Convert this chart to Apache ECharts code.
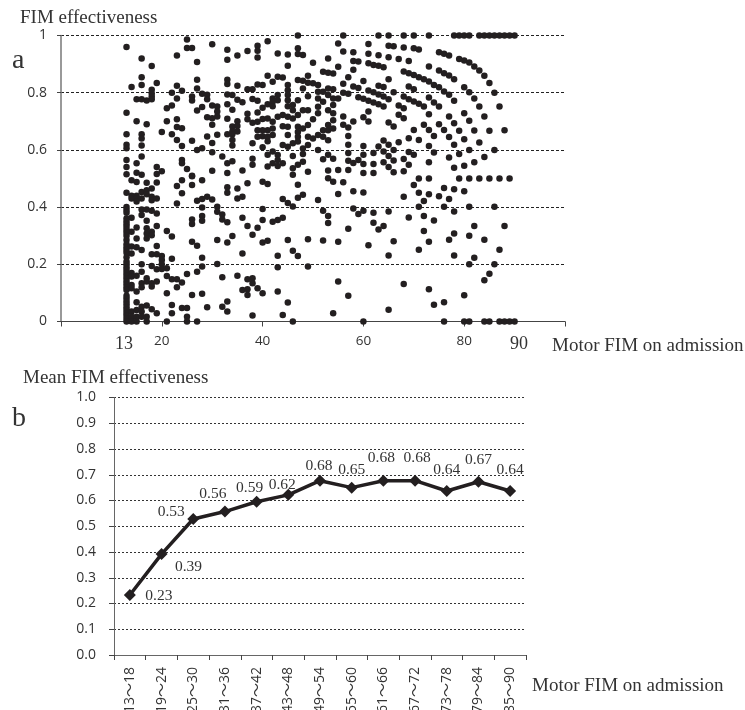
<!DOCTYPE html>
<html>
<head>
<meta charset="utf-8">
<title>FIM effectiveness</title>
<script src="https://cdn.jsdelivr.net/npm/echarts@6/dist/echarts.min.js"></script>
<style>
html, body { margin: 0; padding: 0; background: #fff; overflow: hidden; }
#chart { width: 745px; height: 710px; }
</style>
</head>
<body>
<div id="chart"></div>
<script>
// panel a: motor FIM on admission, one list of effectiveness values per score
const motorScores = [13,14,15,16,17,18,19,20,21,22,23,24,25,26,27,28,29,30,31,32,33,34,35,36,37,38,39,40,41,42,43,44,45,46,47,48,49,50,51,52,53,54,55,56,57,58,59,60,61,62,63,64,65,66,67,68,69,70,71,72,73,74,75,76,77,78,79,80,81,82,83,84,85,86,87,88,89,90];
const effectivenessByScore = [
  [0.96,0.73,0.655,0.618,0.606,0.565,0.54,0.515,0.45,0.4,0.39,0.38,0.36,0.35,0.34,0.33,0.32,0.31,0.3,0.285,0.27,0.26,0.25,0.24,0.225,0.21,0.2,0.19,0.18,0.17,0.16,0.15,0.14,0.13,0.12,0.11,0.09,0.08,0.07,0.06,0.05,0.04,0.03,0.02,0.01,0],
  [0.82,0.494,0.44,0.43,0.363,0.314,0.262,0.238,0.17,0.157,0.128,0.116,0.035,0.017,0],
  [0.777,0.7,0.553,0.52,0.488,0.44,0.43,0.42,0.329,0.29,0.26,0.16,0.105,0.067,0.04,0.017,0],
  [0.92,0.854,0.827,0.777,0.655,0.64,0.615,0.577,0.513,0.453,0.43,0.392,0.372,0.25,0.2,0.174,0.134,0.12,0.052,0.035,0.017],
  [0.773,0.69,0.485,0.459,0.445,0.392,0.352,0.326,0.308,0.29,0.151,0.14,0.056,0.017,0],
  [0.893,0.81,0.797,0.787,0.777,0.465,0.436,0.424,0.387,0.314,0.302,0.235,0.194,0.134,0.122,0.043],
  [0.834,0.54,0.516,0.486,0.43,0.378,0.334,0.264,0.235,0.183,0.14,0.029],
  [0.663,0.525,0.229,0.215,0.2,0.184],
  [0.746,0.7,0.316,0.186,0.159,0.099,0],
  [0.8,0.755,0.655,0.297,0.219,0.148,0.058,0.029],
  [0.93,0.824,0.78,0.707,0.68,0.635,0.474,0.413,0.148,0.12],
  [0.807,0.676,0.614,0.565,0.553,0.494,0.448,0.136,0.047],
  [0.986,0.956,0.533,0.166,0.047,0.017,0],
  [0.956,0.787,0.773,0.632,0.51,0.508,0.477,0.357,0.341,0.279,0.093],
  [0.907,0.845,0.815,0.738,0.6,0.422,0.265,0.174,0],
  [0.796,0.75,0.606,0.494,0.428,0.399,0.369,0.352,0.223,0.192,0.097],
  [0.793,0.777,0.714,0.647,0.436,0.05],
  [0.969,0.755,0.711,0.688,0.624,0.592,0.527,0.427],
  [0.752,0.734,0.717,0.653,0.401,0.384,0.285,0.201],
  [0.577,0.374,0.357,0.155,0.052],
  [0.95,0.915,0.845,0.83,0.794,0.76,0.709,0.655,0.553,0.519,0.469,0.45,0.347,0.276,0.07,0.035],
  [0.792,0.74,0.682,0.664,0.655,0.635,0.615,0.56,0.299],
  [0.93,0.824,0.775,0.7,0.684,0.664,0.465,0.43,0.16],
  [0.767,0.528,0.436,0.363,0.238,0.11],
  [0.946,0.812,0.726,0.707,0.483,0.334,0.148,0.113,0.093],
  [0.812,0.778,0.695,0.623,0.569,0.548,0.303,0.151,0.134,0.021],
  [0.964,0.947,0.923,0.829,0.772,0.731,0.698,0.669,0.646,0.328,0.116],
  [0.827,0.747,0.708,0.669,0.648,0.609,0.489,0.393,0.355,0.276,0.099],
  [0.98,0.859,0.76,0.71,0.669,0.646,0.63,0.583,0.542,0.481,0.282],
  [0.838,0.78,0.768,0.753,0.698,0.675,0.652,0.594,0.553,0.349],
  [0.937,0.856,0.792,0.774,0.716,0.582,0.565,0.544,0.355,0.23,0.19,0.105],
  [0.853,0.722,0.683,0.617,0.553,0.428,0.363,0.023],
  [0.934,0.894,0.827,0.809,0.792,0.774,0.753,0.716,0.681,0.652,0.611,0.414,0.285,0.066],
  [0.757,0.739,0.71,0.623,0.579,0.536,0.513,0.402,0.247,0],
  [1,0.955,0.935,0.844,0.774,0.722,0.681,0.663,0.646,0.629,0.548,0.478,0.433,0.229],
  [0.932,0.842,0.815,0.739,0.675,0.605,0.586,0.559,0.443],
  [0.859,0.835,0.788,0.739,0.687,0.646,0.617,0.524,0.288,0.192],
  [0.905,0.833,0.707,0.64],
  [0.827,0.803,0.78,0.751,0.728,0.652,0.6,0.425],
  [0.873,0.803,0.768,0.669,0.646,0.567,0.387,0.283],
  [0.92,0.87,0.815,0.792,0.739,0.687,0.669,0.634,0.583,0.528,0.501,0.369,0.344],
  [0.867,0.812,0.78,0.757,0.728,0.704,0.675,0.569,0.489,0.029],
  [0.972,0.891,0.78,0.53,0.446,0.279,0.14],
  [1,0.944,0.831,0.8,0.717,0.688,0.487],
  [0.854,0.796,0.678,0.649,0.618,0.589,0.562,0.53,0.324,0.09],
  [0.941,0.911,0.88,0.822,0.699,0.554,0.455,0.395],
  [0.909,0.816,0.784,0.565,0.376],
  [0.841,0.779,0.714,0.614,0.583,0.551,0.519,0.451,0.387,0],
  [0.97,0.936,0.903,0.808,0.772,0.734,0.699,0.267],
  [0.897,0.802,0.766,0.589,0.551,0.519,0.38,0.345],
  [1,0.931,0.894,0.824,0.794,0.76,0.612,0.322],
  [0.889,0.82,0.787,0.752,0.633,0.594,0.557,0.334],
  [1,0.964,0.924,0.847,0.777,0.696,0.618,0.579,0.54,0.385,0.231,0.041],
  [0.962,0.802,0.682,0.6,0.563,0.522,0.281],
  [0.918,0.755,0.723,0.627],
  [1,0.958,0.874,0.787,0.746,0.711,0.568,0.525,0.436,0.131],
  [0.911,0.868,0.822,0.777,0.641,0.593,0.548,0.364],
  [1,0.955,0.862,0.812,0.769,0.67,0.583,0.477],
  [0.951,0.854,0.761,0.635,0.5,0.45,0.401,0.251],
  [0.847,0.752,0.688,0.421,0.369,0.316],
  [1,0.892,0.839,0.783,0.725,0.67,0.614,0.557,0.5,0.445,0.279,0.113],
  [0.827,0.766,0.649,0.591,0.353,0.059],
  [0.941,0.878,0.819,0.752,0.69,0.438],
  [0.936,0.868,0.804,0.67,0.467,0.401,0.067,0],
  [0.93,0.86,0.793,0.717,0.645,0.573,0.428,0.286],
  [1,0.847,0.772,0.693,0.618,0.538,0.462,0.385,0.308,0.231],
  [1,0.918,0.667,0.586,0.5],
  [1,0.913,0.819,0.728,0.637,0.545,0.455,0.092,0],
  [1,0.906,0.802,0.702,0.6,0.5,0.401,0.3,0.2,0],
  [0.892,0.78,0.668,0.557,0.334,0.223],
  [1,0.878,0.752,0.626,0.5],
  [1,0.859,0.717,0.575,0.286,0.144,0],
  [1,0.834,0.667,0.5,0.167,0],
  [1,0.8,0.6,0.401,0.2],
  [1,0.752,0.5,0.251,0],
  [1,0.669,0.334,0],
  [1,0.5,0],
  [1,0]
];

// panel b: mean effectiveness per admission band
const bandLabels = ['13～18','19～24','25～30','31～36','37～42','43～48','49～54','55～60','61～66','67～72','73～78','79～84','85～90'];
const meanEffectiveness = [0.233,0.392,0.528,0.557,0.595,0.622,0.677,0.65,0.677,0.677,0.637,0.673,0.637];
const meanLabels = ['0.23','0.39','0.53','0.56','0.59','0.62','0.68','0.65','0.68','0.68','0.64','0.67','0.64'];
// where each mean label sits relative to its marker
const meanLabelOffsets = [[29,1],[27,13],[-22,-7],[-12,-18],[-7,-14],[-6,-10],[-1,-15],[0,-18],[-2,-23],[2,-23],[0,-21],[0,-22],[0,-21]];

const scatterTicksShown = [20, 40, 60, 80];

const ink = '#231f20';
const serif = '"Liberation Serif", serif';
const sans = '"Open Sans", "Noto Sans", "Noto Sans CJK JP", sans-serif';

const scatterPoints = [];
motorScores.forEach((score, i) => {
    effectivenessByScore[i].forEach(v => scatterPoints.push([score, v]));
});

function freeText(text, left, top, size) {
    return {
        type: 'text', left: left, top: top, silent: true,
        style: { text: text, fill: '#333', font: size + 'px ' + serif }
    };
}

const chart = echarts.init(document.getElementById('chart'));
chart.setOption({
    animation: false,
    backgroundColor: '#fff',
    grid: [
        // band labels run off the bottom of the page, so no fitting to the canvas
        { left: 61, top: 35.5, width: 504, height: 286, outerBoundsMode: 'none' },
        { left: 114, top: 397.5, width: 412, height: 257.5, outerBoundsMode: 'none' }
    ],
    xAxis: [
        {
            type: 'value', gridIndex: 0, min: 0, max: 100, interval: 20,
            splitLine: { show: false },
            axisLine: { onZero: false, lineStyle: { color: '#444', width: 1 } },
            axisTick: { length: 5, lineStyle: { color: '#444' } },
            axisLabel: {
                color: '#333', fontFamily: sans, fontSize: 13.5, margin: 13,
                formatter: v => scatterTicksShown.includes(v) ? String(v) : ''
            }
        },
        {
            type: 'category', gridIndex: 1, data: bandLabels, boundaryGap: true,
            axisLine: { lineStyle: { color: '#666', width: 1 } },
            axisTick: { show: true, length: 5, alignWithLabel: false, lineStyle: { color: '#444' } },
            axisLabel: {
                color: '#333', fontFamily: sans, fontSize: 14, rotate: 90, margin: 12, interval: 0
            }
        }
    ],
    yAxis: [
        {
            type: 'value', gridIndex: 0, min: 0, max: 1, interval: 0.2,
            axisLine: { show: true, lineStyle: { color: '#777', width: 1.5 } },
            axisTick: { show: true, length: 4, lineStyle: { color: '#444' } },
            splitLine: { lineStyle: { color: '#222', width: 1, type: [3, 2] } },
            axisLabel: { color: '#333', fontFamily: sans, fontSize: 14, margin: 14 }
        },
        {
            type: 'value', gridIndex: 1, min: 0, max: 1, interval: 0.1,
            axisLine: { show: true, lineStyle: { color: '#666', width: 1 } },
            axisTick: { show: true, length: 5, lineStyle: { color: '#444' } },
            splitLine: { lineStyle: { color: '#333', width: 1, type: [2, 2] } },
            axisLabel: { color: '#333', fontFamily: sans, fontSize: 14, margin: 18, formatter: v => v.toFixed(1) }
        }
    ],
    series: [
        {
            type: 'scatter', xAxisIndex: 0, yAxisIndex: 0, clip: false,
            data: scatterPoints, symbol: 'circle', symbolSize: 6.5,
            itemStyle: { color: ink, opacity: 1 }
        },
        {
            type: 'line', xAxisIndex: 1, yAxisIndex: 1,
            data: meanEffectiveness.map((v, i) => ({
                value: v,
                label: { formatter: meanLabels[i], offset: meanLabelOffsets[i] }
            })),
            symbol: 'diamond', symbolSize: 12, showSymbol: true,
            lineStyle: { color: ink, width: 3.5 },
            itemStyle: { color: ink },
            label: {
                show: true, position: 'inside', color: '#333',
                fontFamily: serif, fontSize: 15.5
            }
        }
    ],
    graphic: [
        freeText('FIM effectiveness', 20, 9, 19),
        freeText('a', 12, 47, 28),
        freeText('13', 115, 335, 18),
        freeText('90', 510, 335, 18),
        freeText('Motor FIM on admission', 552, 337, 19),
        freeText('Mean FIM effectiveness', 23, 369, 19),
        freeText('b', 12, 405, 28),
        freeText('Motor FIM on admission', 532, 677, 19)
    ]
});
</script>
</body>
</html>
